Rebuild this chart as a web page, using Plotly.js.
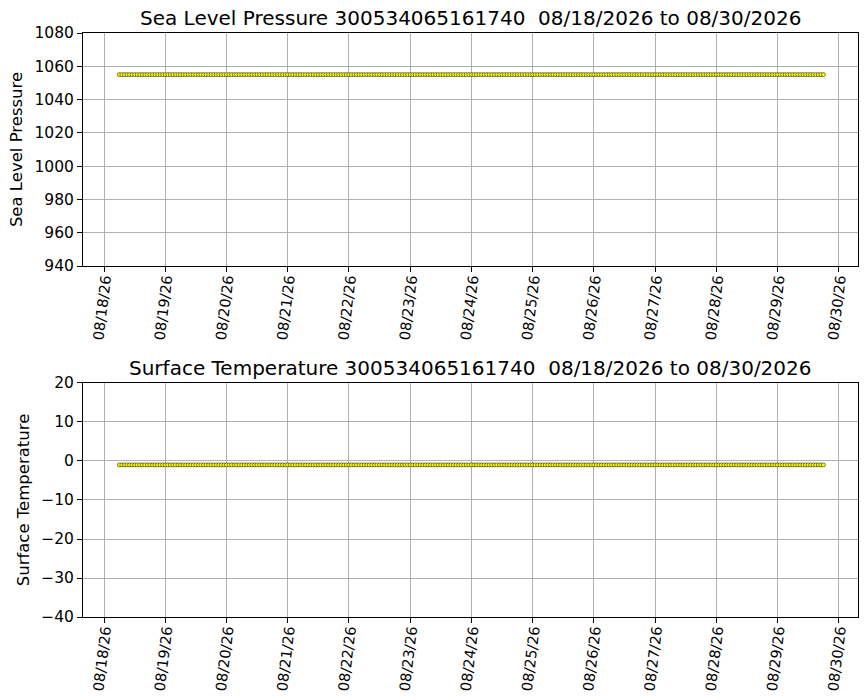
<!DOCTYPE html>
<html>
<head>
<meta charset="utf-8">
<script src="https://cdn.plot.ly/plotly-3.0.1.min.js"></script>
<style>
  body { margin: 0; background: #fff; }
  #chart { width: 867px; height: 700px; }
</style>
</head>
<body>
<div id="chart"></div>
<script>
// hourly samples, 08/18/2026 06:00 .. 08/29/2026 18:00
var startTime = '2026-08-18T06:00:00';
var stepHours = 1;

var pressure = [
  1055,1055,1055,1055,1055,1055,1055,1055,1055,1055,1055,1055,1055,1055,1055,1055,1055,1055,
  1055,1055,1055,1055,1055,1055,1055,1055,1055,1055,1055,1055,1055,1055,1055,1055,1055,1055,1055,1055,1055,1055,1055,1055,
  1055,1055,1055,1055,1055,1055,1055,1055,1055,1055,1055,1055,1055,1055,1055,1055,1055,1055,1055,1055,1055,1055,1055,1055,
  1055,1055,1055,1055,1055,1055,1055,1055,1055,1055,1055,1055,1055,1055,1055,1055,1055,1055,1055,1055,1055,1055,1055,1055,
  1055,1055,1055,1055,1055,1055,1055,1055,1055,1055,1055,1055,1055,1055,1055,1055,1055,1055,1055,1055,1055,1055,1055,1055,
  1055,1055,1055,1055,1055,1055,1055,1055,1055,1055,1055,1055,1055,1055,1055,1055,1055,1055,1055,1055,1055,1055,1055,1055,
  1055,1055,1055,1055,1055,1055,1055,1055,1055,1055,1055,1055,1055,1055,1055,1055,1055,1055,1055,1055,1055,1055,1055,1055,
  1055,1055,1055,1055,1055,1055,1055,1055,1055,1055,1055,1055,1055,1055,1055,1055,1055,1055,1055,1055,1055,1055,1055,1055,
  1055,1055,1055,1055,1055,1055,1055,1055,1055,1055,1055,1055,1055,1055,1055,1055,1055,1055,1055,1055,1055,1055,1055,1055,
  1055,1055,1055,1055,1055,1055,1055,1055,1055,1055,1055,1055,1055,1055,1055,1055,1055,1055,1055,1055,1055,1055,1055,1055,
  1055,1055,1055,1055,1055,1055,1055,1055,1055,1055,1055,1055,1055,1055,1055,1055,1055,1055,1055,1055,1055,1055,1055,1055,
  1055,1055,1055,1055,1055,1055,1055,1055,1055,1055,1055,1055,1055,1055,1055,1055,1055,1055,1055
];

var temperature = [
  -1,-1,-1,-1,-1,-1,-1,-1,-1,-1,-1,-1,-1,-1,-1,-1,-1,-1,
  -1,-1,-1,-1,-1,-1,-1,-1,-1,-1,-1,-1,-1,-1,-1,-1,-1,-1,-1,-1,-1,-1,-1,-1,
  -1,-1,-1,-1,-1,-1,-1,-1,-1,-1,-1,-1,-1,-1,-1,-1,-1,-1,-1,-1,-1,-1,-1,-1,
  -1,-1,-1,-1,-1,-1,-1,-1,-1,-1,-1,-1,-1,-1,-1,-1,-1,-1,-1,-1,-1,-1,-1,-1,
  -1,-1,-1,-1,-1,-1,-1,-1,-1,-1,-1,-1,-1,-1,-1,-1,-1,-1,-1,-1,-1,-1,-1,-1,
  -1,-1,-1,-1,-1,-1,-1,-1,-1,-1,-1,-1,-1,-1,-1,-1,-1,-1,-1,-1,-1,-1,-1,-1,
  -1,-1,-1,-1,-1,-1,-1,-1,-1,-1,-1,-1,-1,-1,-1,-1,-1,-1,-1,-1,-1,-1,-1,-1,
  -1,-1,-1,-1,-1,-1,-1,-1,-1,-1,-1,-1,-1,-1,-1,-1,-1,-1,-1,-1,-1,-1,-1,-1,
  -1,-1,-1,-1,-1,-1,-1,-1,-1,-1,-1,-1,-1,-1,-1,-1,-1,-1,-1,-1,-1,-1,-1,-1,
  -1,-1,-1,-1,-1,-1,-1,-1,-1,-1,-1,-1,-1,-1,-1,-1,-1,-1,-1,-1,-1,-1,-1,-1,
  -1,-1,-1,-1,-1,-1,-1,-1,-1,-1,-1,-1,-1,-1,-1,-1,-1,-1,-1,-1,-1,-1,-1,-1,
  -1,-1,-1,-1,-1,-1,-1,-1,-1,-1,-1,-1,-1,-1,-1,-1,-1,-1,-1
];

var titles = [
  'Sea Level Pressure 300534065161740 \u00a008/18/2026 to 08/30/2026',
  'Surface Temperature 300534065161740 \u00a008/18/2026 to 08/30/2026'
];
var yTitles = ['Sea Level Pressure', 'Surface Temperature'];

// build the time axis from the sampling start
var times = [];
var t0 = new Date(startTime + 'Z').getTime();
for (var i = 0; i < pressure.length; i++) {
  var d = new Date(t0 + i * stepHours * 3600000);
  times.push(d.toISOString().slice(0, 19).replace('T', ' '));
}

var markerStyle = {
  symbol: 'circle',
  size: 4,
  color: '#ffff00',
  line: {color: '#000000', width: 0.5}
};

var trace1 = {
  type: 'scatter',
  mode: 'markers',
  x: times,
  y: pressure,
  marker: markerStyle,
  xaxis: 'x',
  yaxis: 'y',
  hoverinfo: 'skip'
};

var trace2 = {
  type: 'scatter',
  mode: 'markers',
  x: times,
  y: temperature,
  marker: markerStyle,
  xaxis: 'x2',
  yaxis: 'y2',
  hoverinfo: 'skip'
};

var xRange = ['2026-08-17 15:46', '2026-08-30 07:34'];

function xAxis(anchor) {
  return {
    anchor: anchor,
    type: 'date',
    range: xRange,
    tick0: '2026-08-18',
    dtick: 86400000,
    tickformat: '%m/%d/%y',
    tickangle: -83,
    ticks: 'outside',
    ticklen: 5,
    tickwidth: 1,
    tickcolor: '#000',
    ticklabelstandoff: -7,
    showgrid: true,
    gridcolor: '#b0b0b0',
    gridwidth: 1,
    showline: true,
    linecolor: '#000',
    linewidth: 1,
    mirror: true,
    zeroline: false,
    tickfont: {size: 14.5, color: '#000'}
  };
}

function yAxis(anchor, range, dtick, title) {
  return {
    anchor: anchor,
    range: range,
    dtick: dtick,
    ticks: 'outside',
    ticklen: 5,
    tickwidth: 1,
    tickcolor: '#000',
    showgrid: true,
    gridcolor: '#b0b0b0',
    gridwidth: 1,
    showline: true,
    linecolor: '#000',
    linewidth: 1,
    mirror: true,
    zeroline: false,
    tickfont: {size: 15.5, color: '#000'},
    title: {text: title, font: {size: 16.5, color: '#000'}, standoff: 7}
  };
}

var layout = {
  width: 867,
  height: 700,
  showlegend: false,
  paper_bgcolor: '#fff',
  plot_bgcolor: '#fff',
  font: {family: 'DejaVu Sans, sans-serif', color: '#000'},
  margin: {l: 83, r: 9, t: 33, b: 83},
  xaxis: Object.assign(xAxis('y'), {domain: [0, 1]}),
  yaxis: Object.assign(yAxis('x', [940, 1080], 20, yTitles[0]), {domain: [0.601, 1]}),
  xaxis2: Object.assign(xAxis('y2'), {domain: [0, 1]}),
  yaxis2: Object.assign(yAxis('x2', [-40, 20], 10, yTitles[1]), {domain: [0, 0.4007]}),
  annotations: [
    {text: titles[0], xref: 'paper', yref: 'paper', x: 0.5, y: 1, xanchor: 'center', yanchor: 'bottom',
     yshift: 1, showarrow: false, font: {size: 20, color: '#000'}},
    {text: titles[1], xref: 'paper', yref: 'paper', x: 0.5, y: 0.4007, xanchor: 'center', yanchor: 'bottom',
     yshift: 1, showarrow: false, font: {size: 20, color: '#000'}}
  ]
};

Plotly.newPlot('chart', [trace1, trace2], layout, {staticPlot: true, displayModeBar: false});
</script>
</body>
</html>
